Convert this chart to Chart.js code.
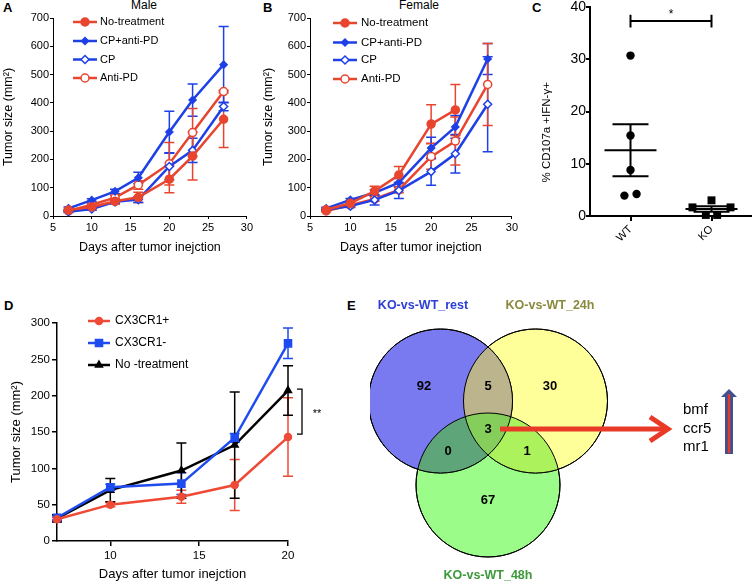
<!DOCTYPE html>
<html><head><meta charset="utf-8">
<script src="https://cdn.jsdelivr.net/npm/chart.js@4.4.1/dist/chart.umd.min.js"></script>
<style>
html,body{margin:0;padding:0;background:#fff;}
body{width:752px;height:587px;position:relative;overflow:hidden;font-family:"Liberation Sans",Arial,sans-serif;}
canvas{position:absolute;}
.lab{position:absolute;font-weight:bold;font-size:13px;line-height:13px;color:#000;}
.ttl{position:absolute;font-size:12px;line-height:12px;color:#000;transform:translateX(-50%);white-space:nowrap;}
</style></head><body>
<div class="lab" style="left:3px;top:1px">A</div>
<div class="lab" style="left:263px;top:1px">B</div>
<div class="lab" style="left:532px;top:1px">C</div>
<div class="lab" style="left:4px;top:299px">D</div>
<div class="lab" style="left:347px;top:299px">E</div>
<div class="ttl" style="left:144px;top:-1px">Male</div>
<div class="ttl" style="left:419px;top:-1px">Female</div>
<canvas id="cA" width="255" height="262" style="left:0;top:0"></canvas>
<canvas id="cB" width="265" height="262" style="left:255px;top:0"></canvas>
<canvas id="cC" width="232" height="262" style="left:520px;top:0"></canvas>
<canvas id="cD" width="370" height="307" style="left:0;top:280px"></canvas>
<canvas id="cE" width="382" height="307" style="left:370px;top:280px"></canvas>
<script>
// ---------------- data ----------------
const days = [7, 10, 13, 16, 20, 23, 27];
const seriesNames = ['No-treatment', 'CP+anti-PD', 'CP', 'Anti-PD'];

const maleNoTreat = [21, 32, 52, 66, 130, 212, 342];
const maleNoTreatErr = [4, 6, 10, 18, 48, 85, 100];
const maleCPantiPD = [27, 56, 87, 135, 297, 410, 535];
const maleCPantiPDErr = [5, 5, 8, 20, 73, 57, 135];
const maleCP = [15, 25, 50, 58, 175, 232, 387];
const maleCPErr = [3, 5, 6, 10, 47, 43, 15];
const maleAntiPD = [18, 40, 65, 110, 185, 295, 440];
const maleAntiPDErr = [3, 5, 8, 15, 75, 85, 5];

const femNoTreat = [22, 45, 88, 145, 325, 375, null];
const femNoTreatErr = [3, 5, 17, 30, 68, 90, null];
const femCPantiPD = [27, 57, 82, 118, 240, 315, 555];
const femCPantiPDErr = [4, 5, 10, 15, 38, 40, 55];
const femCP = [22, 35, 57, 90, 157, 220, 395];
const femCPErr = [3, 5, 18, 28, 48, 68, 168];
const femAntiPD = [18, 38, 60, 92, 210, 265, 465];
const femAntiPDErr = [3, 5, 8, 10, 45, 85, 145];

const growthXTicks = [5, 10, 15, 20, 25, 30];
const growthYTicks = [0, 100, 200, 300, 400, 500, 600, 700];

const cGroups = ['WT', 'KO'];
const cWT = [30.7, 15.4, 8.8, 3.9, 4.2];
const cKO = [1.65, 3.0, 1.65, 0.2, 0.2];
const cWTjitter = [0, 0, 0, -0.075, 0.075];
const cKOjitter = [-0.235, 0, 0.235, -0.07, 0.07];
const cYTicks = [0, 10, 20, 30, 40];

const dDays = [7, 10, 14, 17, 20];
const dNames = ['CX3CR1+', 'CX3CR1-', 'No -treatment'];
const dPos = [30, 50, 61, 77, 143];
const dPosErr = [3, 3, 9, 35, 54];
const dNeg = [32, 74, 79, 142, 272];
const dNegErr = [3, 4, 15, 6, 21];
const dNone = [31, 70, 97, 132, 207];
const dNoneErr = [5, 16, 38, 73, 34];
const dXTicks = [10, 15, 20];
const dYTicks = [0, 50, 100, 150, 200, 250, 300];

const vennSets = ['KO-vs-WT_rest', 'KO-vs-WT_24h', 'KO-vs-WT_48h'];
const vennCounts = [92, 5, 30, 3, 0, 1, 67]; // rest only, rest&24h, 24h only, all, rest&48h, 24h&48h, 48h only
const vennGenes = ['bmf', 'ccr5', 'mr1'];

// ---------------- style / layout ----------------
Chart.defaults.font.family = '"Liberation Sans", Arial, Helvetica, sans-serif';
Chart.defaults.color = '#000';
const RED = '#e8452f', BLUE = '#1e40e6';

const errorBarPlugin = {
  id: 'errbars',
  beforeDatasetsDraw(chart) {
    const ctx = chart.ctx, ys = chart.scales.y;
    chart.data.datasets.forEach((d, di) => {
      if (!d.errors) return;
      const meta = chart.getDatasetMeta(di);
      ctx.save();
      ctx.strokeStyle = d.borderColor; ctx.lineWidth = 1.5;
      meta.data.forEach((pt, i) => {
        const raw = d.data[i];
        if (!raw || raw.y == null) return;
        const e = d.errors[i]; if (!e) return;
        const x = pt.x, y1 = ys.getPixelForValue(raw.y + e), y2 = ys.getPixelForValue(raw.y - e), cw = 5;
        ctx.beginPath();
        ctx.moveTo(x, y1); ctx.lineTo(x, y2);
        ctx.moveTo(x - cw, y1); ctx.lineTo(x + cw, y1);
        ctx.moveTo(x - cw, y2); ctx.lineTo(x + cw, y2);
        ctx.stroke();
      });
      ctx.restore();
    });
  }
};

const inLegendPlugin = {
  id: 'inLegend',
  afterDatasetsDraw(chart, args, o) {
    if (!o || o.x == null) return;
    const ctx = chart.ctx;
    chart.data.datasets.forEach((d, i) => {
      const y = o.ys[i];
      ctx.save();
      ctx.strokeStyle = d.borderColor; ctx.lineWidth = d.borderWidth;
      ctx.beginPath(); ctx.moveTo(o.x, y); ctx.lineTo(o.x + o.len, y); ctx.stroke();
      ctx.fillStyle = d.pointBackgroundColor; ctx.strokeStyle = d.pointBorderColor; ctx.lineWidth = d.pointBorderWidth;
      Chart.helpers.drawPoint(ctx, {pointStyle: d.pointStyle, radius: d.pointRadius, rotation: 0, borderWidth: d.pointBorderWidth}, o.x + o.len / 2, y);
      ctx.fillStyle = '#000'; ctx.font = o.font; ctx.textBaseline = 'middle'; ctx.textAlign = 'left';
      ctx.fillText(d.label, o.x + o.len + o.gap, y);
      ctx.restore();
    });
  }
};
Chart.register(errorBarPlugin, inLegendPlugin);

function series(label, xs, vals, errs, color, style, filled, r) {
  const pts = [];
  xs.forEach((x, i) => { if (vals[i] != null) pts.push({x: x, y: vals[i]}); });
  const e = [];
  xs.forEach((x, i) => { if (vals[i] != null) e.push(errs[i]); });
  return {
    label, data: pts, errors: e,
    borderColor: color, borderWidth: 2.5, tension: 0, fill: false,
    pointStyle: style, pointRadius: r, pointHoverRadius: r,
    pointBackgroundColor: filled ? color : '#fff', pointBorderColor: color, pointBorderWidth: 1.5,
    clip: false
  };
}

function axes(cfg) {
  return {
    x: {
      type: 'linear', min: cfg.xMin, max: cfg.xMax,
      afterBuildTicks: s => { s.ticks = cfg.xTicks.map(v => ({value: v})); },
      ticks: {color: '#000', font: {size: cfg.tickSize}, padding: cfg.xTickPad, maxRotation: 0, autoSkip: false},
      grid: {drawOnChartArea: false, drawTicks: true, tickLength: cfg.tickLen, color: '#000', lineWidth: cfg.axisW},
      border: {display: true, color: '#000', width: cfg.axisW},
      title: {display: true, text: 'Days after tumor inejction', color: '#000', font: {size: cfg.titleSize}, padding: {top: 0, bottom: cfg.xTitlePad}},
      afterFit: s => { s.height = cfg.xH; }
    },
    y: {
      type: 'linear', min: cfg.yMin, max: cfg.yMax,
      afterBuildTicks: s => { s.ticks = cfg.yTicks.map(v => ({value: v})); },
      ticks: {color: '#000', font: {size: cfg.tickSize}, padding: cfg.yTickPad, autoSkip: false},
      grid: {drawOnChartArea: false, drawTicks: true, tickLength: cfg.tickLen, color: '#000', lineWidth: cfg.axisW},
      border: {display: true, color: '#000', width: cfg.axisW},
      title: {display: true, text: 'Tumor size (mm²)', color: '#000', font: {size: cfg.titleSize}, padding: {top: cfg.yTitlePad, bottom: 0}},
      afterFit: s => { s.width = cfg.yW; }
    }
  };
}

function growthChart(id, sets, cfg) {
  return new Chart(document.getElementById(id), {
    type: 'line',
    data: {datasets: sets},
    options: {
      responsive: false, animation: false, events: [],
      layout: {autoPadding: false, padding: {top: cfg.padTop, right: cfg.padRight, left: 0, bottom: 0}},
      plugins: {legend: {display: false}, tooltip: {enabled: false}, inLegend: cfg.legend, sigBracket: cfg.sig || {}},
      scales: axes(cfg)
    },
    plugins: cfg.extra ? [cfg.extra] : []
  });
}

const abBase = {xMin: 5, xMax: 30, xTicks: growthXTicks, yMin: 0, yMax: 700, yTicks: growthYTicks,
  tickSize: 11, titleSize: 12.5, tickLen: 3, axisW: 1, xTickPad: 2, yTickPad: 1, xH: 46, xTitlePad: 7, padTop: 18};

// Panel A
growthChart('cA', [
  series(seriesNames[0], days, maleNoTreat, maleNoTreatErr, RED, 'circle', true, 4),
  series(seriesNames[1], days, maleCPantiPD, maleCPantiPDErr, BLUE, 'rectRot', true, 3.5),
  series(seriesNames[2], days, maleCP, maleCPErr, BLUE, 'rectRot', false, 4),
  series(seriesNames[3], days, maleAntiPD, maleAntiPDErr, RED, 'circle', false, 4)
], Object.assign({}, abBase, {yW: 53, padRight: 8, yTitlePad: 1,
  legend: {x: 73, len: 24, gap: 3, ys: [22, 41, 59.5, 78], font: '11px "Liberation Sans", Arial'}}));

// Panel B
growthChart('cB', [
  series(seriesNames[0], days, femNoTreat, femNoTreatErr, RED, 'circle', true, 4),
  series(seriesNames[1], days, femCPantiPD, femCPantiPDErr, BLUE, 'rectRot', true, 3.5),
  series(seriesNames[2], days, femCP, femCPErr, BLUE, 'rectRot', false, 4),
  series(seriesNames[3], days, femAntiPD, femAntiPDErr, RED, 'circle', false, 4)
], Object.assign({}, abBase, {yW: 55, padRight: 5, yTitlePad: 6,
  legend: {x: 78, len: 24, gap: 4, ys: [23, 42.5, 60, 79], font: '11.5px "Liberation Sans", Arial'}}));

// Panel D
const sigPlugin = {
  id: 'sigBracket',
  afterDatasetsDraw(chart, args, o) {
    if (o.x == null) return;
    const ctx = chart.ctx, xs = chart.scales.x, ys = chart.scales.y;
    const bx = xs.getPixelForValue(o.x) + o.dx, t = ys.getPixelForValue(o.top), b = ys.getPixelForValue(o.bottom);
    ctx.save(); ctx.strokeStyle = '#000'; ctx.lineWidth = 1.3;
    ctx.beginPath(); ctx.moveTo(bx - o.arm, t); ctx.lineTo(bx, t); ctx.lineTo(bx, b); ctx.lineTo(bx - o.arm, b); ctx.stroke();
    ctx.fillStyle = '#000'; ctx.font = '11px "Liberation Sans", Arial'; ctx.textAlign = 'center'; ctx.textBaseline = 'middle';
    ctx.fillText(o.text, bx + o.textDx, ys.getPixelForValue((o.top + o.bottom) / 2) + 2);
    ctx.restore();
  }
};
growthChart('cD', [
  series(dNames[0], dDays, dPos, dPosErr, '#ee4a36', 'circle', true, 3.5),
  series(dNames[1], dDays, dNeg, dNegErr, '#1f4cf0', 'rect', true, 5),
  series(dNames[2], dDays, dNone, dNoneErr, '#000', 'triangle', true, 4)
], {xMin: 7, xMax: 20, xTicks: dXTicks, yMin: 0, yMax: 300, yTicks: dYTicks,
  tickSize: 11.5, titleSize: 13, tickLen: 5, axisW: 1.5, xTickPad: 3, yTickPad: 2, xH: 46, xTitlePad: 5,
  yW: 57, padTop: 43, padRight: 82, yTitlePad: 9,
  legend: {x: 88, len: 22, gap: 5, ys: [41, 63, 85], font: '12px "Liberation Sans", Arial'},
  sig: {x: 20, dx: 14, top: 209, bottom: 147, arm: 5, text: '**', textDx: 15},
  extra: sigPlugin});

// Panel C
function meanSem(a) {
  const m = a.reduce((s, v) => s + v, 0) / a.length;
  const sd = Math.sqrt(a.reduce((s, v) => s + (v - m) * (v - m), 0) / (a.length - 1));
  return [m, sd / Math.sqrt(a.length)];
}
const cStatPlugin = {
  id: 'cStats',
  afterDatasetsDraw(chart) {
    const ctx = chart.ctx, xs = chart.scales.x, ys = chart.scales.y;
    ctx.save(); ctx.strokeStyle = '#000'; ctx.lineWidth = 2;
    [cWT, cKO].forEach((arr, gi) => {
      const [m, se] = meanSem(arr);
      const x = xs.getPixelForValue(gi), ym = ys.getPixelForValue(m), yt = ys.getPixelForValue(m + se), yb = ys.getPixelForValue(m - se);
      ctx.beginPath();
      ctx.moveTo(x - 26, ym); ctx.lineTo(x + 26, ym);
      ctx.moveTo(x - 18, yt); ctx.lineTo(x + 18, yt);
      ctx.moveTo(x - 18, yb); ctx.lineTo(x + 18, yb);
      ctx.moveTo(x, yt); ctx.lineTo(x, yb);
      ctx.stroke();
    });
    const x0 = xs.getPixelForValue(0), x1 = xs.getPixelForValue(1), yb = ys.getPixelForValue(37.3);
    const ya = ys.getPixelForValue(38.5), yc = ys.getPixelForValue(36.1);
    ctx.beginPath();
    ctx.moveTo(x0, yb); ctx.lineTo(x1, yb);
    ctx.moveTo(x0, ya); ctx.lineTo(x0, yc);
    ctx.moveTo(x1, ya); ctx.lineTo(x1, yc);
    ctx.stroke();
    ctx.fillStyle = '#000'; ctx.font = '12px "Liberation Sans", Arial'; ctx.textAlign = 'center'; ctx.textBaseline = 'middle';
    ctx.fillText('*', (x0 + x1) / 2, ys.getPixelForValue(38.9) + 2);
    ctx.restore();
  }
};
new Chart(document.getElementById('cC'), {
  type: 'scatter',
  data: {datasets: [
    {label: cGroups[0], data: cWT.map((v, i) => ({x: 0 + cWTjitter[i], y: v})), pointStyle: 'circle', pointRadius: 4.2,
     backgroundColor: '#000', borderColor: '#000', pointBorderWidth: 0, clip: false},
    {label: cGroups[1], data: cKO.map((v, i) => ({x: 1 + cKOjitter[i], y: v})), pointStyle: 'rect', pointRadius: 5.6,
     backgroundColor: '#000', borderColor: '#000', pointBorderWidth: 0, clip: false}
  ]},
  options: {
    responsive: false, animation: false, events: [],
    layout: {autoPadding: false, padding: {top: 6, right: 0, left: 0, bottom: 0}},
    plugins: {legend: {display: false}, tooltip: {enabled: false}},
    scales: {
      x: {type: 'linear', min: -0.5, max: 1.5,
        afterBuildTicks: s => { s.ticks = [0, 1].map(v => ({value: v})); },
        ticks: {color: '#000', font: {size: 11}, padding: 2, minRotation: 45, maxRotation: 45, autoSkip: false, callback: v => cGroups[v]},
        grid: {drawOnChartArea: false, drawTicks: true, tickLength: 5, color: '#000', lineWidth: 2},
        border: {display: true, color: '#000', width: 2},
        afterFit: s => { s.height = 46; }},
      y: {type: 'linear', min: 0, max: 40,
        afterBuildTicks: s => { s.ticks = cYTicks.map(v => ({value: v})); },
        ticks: {color: '#000', font: {size: 14, lineHeight: 1}, padding: 0, autoSkip: false},
        grid: {drawOnChartArea: false, drawTicks: true, tickLength: 4, color: '#000', lineWidth: 2},
        border: {display: true, color: '#000', width: 2},
        title: {display: true, text: '% CD107a +IFN-γ+' + '\u00A0'.repeat(13), color: '#000', font: {size: 11.5}, padding: {top: 20, bottom: 0}},
        afterFit: s => { s.width = 70; }}
    }
  },
  plugins: [cStatPlugin]
});

// Panel E (Venn)
const vennCenters = [[-47.5, 29], [47.5, 29], [0, -55]];
const vennRadius = 72;
const vennFill = ['rgb(121,121,240)', 'rgb(255,255,153)', 'rgb(155,252,138)'];
const vennPairFill = {ab: 'rgb(188,180,140)', ac: 'rgb(94,166,122)', bc: 'rgb(172,242,92)', abc: 'rgb(134,206,92)'};
const vennCountPos = [[-64, 44], [0, 44], [62, 44], [0, 1], [-40, -21], [39, -21], [0, -70]];
const vennSetPos = [[-65, 124], [62, 124], [0, -146]];
const vennSetColor = ['#2c3fd6', '#8a8a3e', '#3d9a3a'];
const vennPlugin = {
  id: 'venn',
  afterDatasetsDraw(chart) {
    const ctx = chart.ctx, xs = chart.scales.x, ys = chart.scales.y;
    const P = (x, y) => [xs.getPixelForValue(x), ys.getPixelForValue(y)];
    const circ = chart.data.datasets.map((d, i) => { const el = chart.getDatasetMeta(i).data[0]; return [el.x, el.y, el.options.radius]; });
    const clipFill = (ids, col) => {
      ctx.save();
      ids.forEach(k => { ctx.beginPath(); ctx.arc(circ[k][0], circ[k][1], circ[k][2], 0, Math.PI * 2); ctx.clip(); });
      ctx.fillStyle = col; ctx.fillRect(0, 0, chart.width, chart.height);
      ctx.restore();
    };
    clipFill([0, 1], vennPairFill.ab); clipFill([0, 2], vennPairFill.ac); clipFill([1, 2], vennPairFill.bc); clipFill([0, 1, 2], vennPairFill.abc);
    ctx.save(); ctx.strokeStyle = '#000'; ctx.lineWidth = 1;
    circ.forEach(c => { ctx.beginPath(); ctx.arc(c[0], c[1], c[2], 0, Math.PI * 2); ctx.stroke(); });
    ctx.restore();
    ctx.save();
    ctx.textAlign = 'center'; ctx.textBaseline = 'middle';
    ctx.font = 'bold 13px "Liberation Sans", Arial'; ctx.fillStyle = '#000';
    vennCounts.forEach((c, i) => { const p = P(vennCountPos[i][0], vennCountPos[i][1]); ctx.fillText(String(c), p[0], p[1]); });
    ctx.font = 'bold 12.5px "Liberation Sans", Arial';
    vennSets.forEach((s, i) => { const p = P(vennSetPos[i][0], vennSetPos[i][1]); ctx.fillStyle = vennSetColor[i]; ctx.fillText(s, p[0], p[1]); });
    // red arrow
    const a0 = P(12, 1), a1 = P(180, 1);
    ctx.strokeStyle = '#e83a26'; ctx.lineWidth = 5; ctx.lineCap = 'butt'; ctx.lineJoin = 'miter';
    ctx.beginPath(); ctx.moveTo(a0[0], a0[1]); ctx.lineTo(a1[0] - 3, a1[1]); ctx.stroke();
    ctx.beginPath(); ctx.moveTo(a1[0] - 18, a1[1] - 12); ctx.lineTo(a1[0], a1[1]); ctx.lineTo(a1[0] - 18, a1[1] + 12); ctx.stroke();
    // genes
    ctx.fillStyle = '#000'; ctx.font = '15px "Liberation Sans", Arial'; ctx.textAlign = 'left';
    const gy = [20, 1, -17];
    vennGenes.forEach((g, i) => { const p = P(195, gy[i]); ctx.fillText(g, p[0], p[1]); });
    // up arrow
    const b = P(241, -24), tip = P(241, 41), hb = P(241, 33);
    ctx.fillStyle = '#3f5190';
    ctx.beginPath();
    ctx.moveTo(b[0] - 4, b[1]); ctx.lineTo(b[0] - 4, hb[1]); ctx.lineTo(b[0] - 8, hb[1]); ctx.lineTo(tip[0], tip[1]);
    ctx.lineTo(b[0] + 8, hb[1]); ctx.lineTo(b[0] + 4, hb[1]); ctx.lineTo(b[0] + 4, b[1]); ctx.closePath(); ctx.fill();
    ctx.strokeStyle = '#e23b2e'; ctx.lineWidth = 2.5;
    ctx.beginPath(); ctx.moveTo(b[0], b[1] - 1); ctx.lineTo(b[0], tip[1] + 5); ctx.stroke();
    ctx.restore();
  }
};
new Chart(document.getElementById('cE'), {
  type: 'bubble',
  data: {datasets: vennSets.map((s, i) => ({
    label: s, data: [{x: vennCenters[i][0], y: vennCenters[i][1], r: vennRadius}],
    backgroundColor: vennFill[i], borderColor: '#000', borderWidth: 1, clip: false
  }))},
  options: {
    responsive: false, animation: false, events: [],
    layout: {autoPadding: false, padding: 0},
    plugins: {legend: {display: false}, tooltip: {enabled: false}},
    scales: {x: {type: 'linear', display: false, min: -118, max: 264}, y: {type: 'linear', display: false, min: -157, max: 150}}
  },
  plugins: [vennPlugin]
});
</script>
</body></html>
